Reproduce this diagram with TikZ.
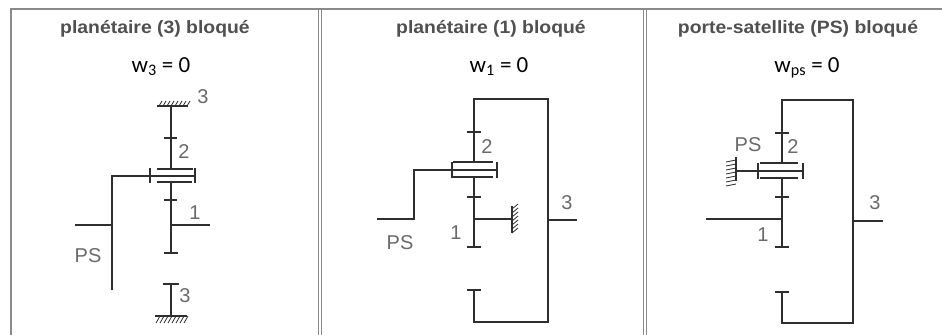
\documentclass[tikz,border=0pt]{standalone}
\usepackage{graphicx}
\usepackage{fontspec}
\setmainfont{Liberation Sans}
\newfontfamily\calib{Carlito}
\definecolor{frame}{HTML}{8A8A8A}
\definecolor{ttl}{HTML}{505050}
\definecolor{lbl}{HTML}{6A6A6A}
\definecolor{ink}{HTML}{2E2E2E}
\newcommand\ttlbox[1]{\scalebox{1.14}[1.05]{#1}}
\tikzset{
  mech/.style={draw=ink, line width=2pt},
  hatch/.style={draw=ink, line width=0.8pt},
  framel/.style={draw=frame, line width=1.5pt},
  titletext/.style={text=ttl, font=\fontsize{17}{19}\selectfont\bfseries, inner sep=0pt, anchor=base},
  eqtext/.style={text=black, font=\calib\fontsize{23}{25}\selectfont, inner sep=0pt, anchor=base},
  lab/.style={text=lbl, font=\fontsize{20}{22}\selectfont, inner sep=0pt},
}
\begin{document}
\begin{tikzpicture}[x=1pt,y=-1pt]
\useasboundingbox (0,0) rectangle (942,335);
\fill[white] (0,0) rectangle (942,335);
% frame
\draw[framel] (11,335) -- (11,9) -- (942,9);
\draw[framel] (318.5,9) -- (318.5,335);
\draw[framel] (321.5,9) -- (321.5,335);
\draw[framel] (643.5,9) -- (643.5,335);
\draw[framel] (646.5,9) -- (646.5,335);
% titles
\node[titletext] (t1) at (155,33) {\ttlbox{planétaire (3) bloqué}};
\node[titletext] (t2) at (491,33) {\ttlbox{planétaire (1) bloqué}};
\node[titletext] (t3) at (798,33) {\ttlbox{porte-satellite (PS) bloqué}};
% equations
\node[eqtext] (e1) at (161,72) {w\textsubscript{3} = 0};
\node[eqtext] (e2) at (499,72) {w\textsubscript{1} = 0};
\node[eqtext] (e3) at (807,72) {w\textsubscript{ps} = 0};

% ===== Panel 1 =====
\draw[mech] (171,106) -- (171,169);
\draw[mech] (171,182) -- (171,253);
\draw[mech] (157,106) -- (188,106);
\foreach \x in {159,163,...,187} \draw[hatch] (\x,106) -- (\x+3,101);
\draw[mech] (164,137.5) -- (177,137.5);
\draw[mech] (164,200) -- (177,200);
\draw[mech] (157,169) -- (193,169);
\draw[mech] (157,182) -- (192,182);
\draw[mech] (112,290) -- (112,175.5) -- (195,175.5);
\draw[mech] (150,168) -- (150,183);
\draw[mech] (195,168) -- (195,183);
\draw[mech] (171,225) -- (210,225);
\draw[mech] (164,253) -- (178,253);
\draw[mech] (75,225) -- (112,225);
\draw[mech] (163,284) -- (179,284);
\draw[mech] (171,284) -- (171,316);
\draw[mech] (155,316) -- (187,316);
\foreach \x in {160,164,...,188} \draw[hatch] (\x,316) -- (\x-4,323);
\node[lab] (l1a) at (203,97) {3};
\node[lab] (l1b) at (184,152) {2};
\node[lab] (l1c) at (195,213) {1};
\node[lab] (l1d) at (88,256) {PS};
\node[lab] (l1e) at (185,296) {3};

% ===== Panel 2 =====
\draw[mech] (474,162) -- (474,99) -- (548,99) -- (548,322) -- (474,322) -- (474,290);
\draw[mech] (467,290) -- (481,290);
\draw[mech] (467,132) -- (481,132);
\draw[mech] (453,162) -- (493,162);
\draw[mech] (453,177) -- (493,177);
\draw[mech] (377,219) -- (414,219) -- (414,170) -- (498,170);
\draw[mech] (452,162) -- (452,178);
\draw[mech] (497,162) -- (497,178);
\draw[mech] (474,177) -- (474,247);
\draw[mech] (467,197) -- (481,197);
\draw[mech] (467,247) -- (481,247);
\draw[mech] (474,219) -- (512,219);
\draw[mech] (512,206) -- (512,233);
\foreach \y in {209,213,...,233} \draw[hatch] (512,\y) -- (518,\y-5);
\draw[mech] (548,220) -- (577,220);
\node[lab] (l2a) at (487,147) {2};
\node[lab] (l2b) at (456,233) {1};
\node[lab] (l2c) at (400,243) {PS};
\node[lab] (l2d) at (567,203) {3};

% ===== Panel 3 =====
\draw[mech] (782,163) -- (782,100) -- (853,100) -- (853,323) -- (782,323) -- (782,292);
\draw[mech] (775,292) -- (789,292);
\draw[mech] (775,133) -- (789,133);
\draw[mech] (760,163) -- (798,163);
\draw[mech] (760,178) -- (798,178);
\draw[mech] (736,171) -- (803,171);
\draw[mech] (758,163) -- (758,179);
\draw[mech] (803,163) -- (803,179);
\draw[mech] (736,157) -- (736,181);
\foreach \y in {160,164,...,184} \draw[hatch] (736,\y) -- (726,\y+2);
\draw[mech] (782,178) -- (782,247);
\draw[mech] (775,197) -- (789,197);
\draw[mech] (775,247) -- (789,247);
\draw[mech] (706,219) -- (782,219);
\draw[mech] (853,221) -- (883,221);
\node[lab] (l3a) at (748,145) {PS};
\node[lab] (l3b) at (793,147) {2};
\node[lab] (l3c) at (763,235) {1};
\node[lab] (l3d) at (875,203) {3};
\end{tikzpicture}
\end{document}
